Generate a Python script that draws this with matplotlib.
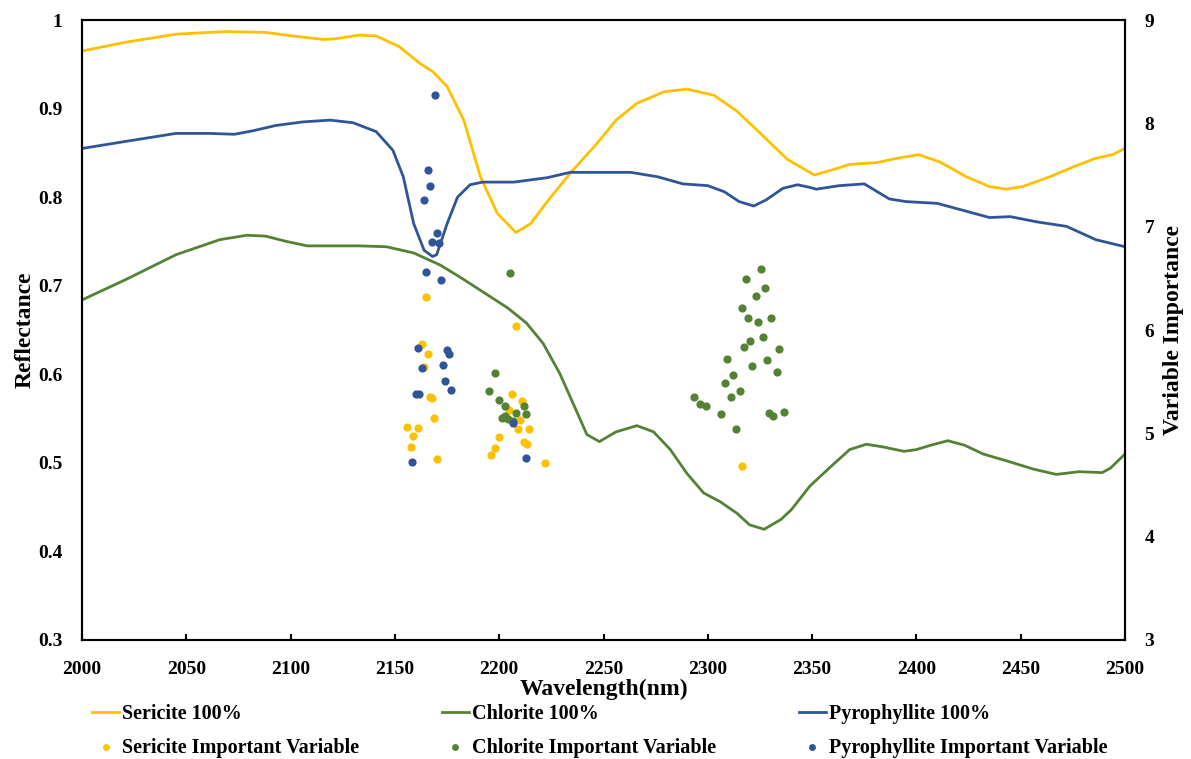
import numpy as np
import matplotlib.pyplot as plt

plt.rcParams['font.family'] = ['Liberation Serif', 'DejaVu Serif']
plt.rcParams['font.weight'] = 'bold'

# reflectance spectra
ser_wl = [2000, 2021, 2045, 2069, 2088, 2101, 2116, 2122, 2133, 2141, 2152, 2162, 2168, 2175,
          2183, 2191, 2199, 2208, 2215, 2223, 2234, 2247, 2256, 2266, 2279, 2290, 2303, 2314,
          2327, 2338, 2351, 2360, 2368, 2381, 2391, 2401, 2411, 2424, 2435, 2443, 2451, 2464,
          2475, 2486, 2494, 2500]
ser_r = [0.965, 0.975, 0.984, 0.987, 0.986, 0.982, 0.978, 0.979, 0.983, 0.982, 0.970, 0.951, 0.942, 0.925,
         0.887, 0.823, 0.782, 0.760, 0.770, 0.795, 0.827, 0.861, 0.887, 0.906, 0.919, 0.922, 0.915, 0.897,
         0.868, 0.843, 0.825, 0.831, 0.837, 0.839, 0.844, 0.848, 0.840, 0.823, 0.812, 0.809, 0.812, 0.823,
         0.834, 0.844, 0.848, 0.855]

chl_wl = [2000, 2021, 2045, 2066, 2079, 2088, 2098, 2108, 2120, 2133, 2146, 2159, 2172, 2183,
          2204, 2213, 2221, 2229, 2236, 2242, 2248, 2256, 2266, 2274, 2282, 2290, 2298, 2306,
          2314, 2320, 2327, 2335, 2340, 2349, 2360, 2368, 2376, 2384, 2394, 2400, 2407, 2415,
          2423, 2432, 2445, 2456, 2467, 2478, 2489, 2493, 2500]
chl_r = [0.684, 0.707, 0.735, 0.752, 0.757, 0.756, 0.750, 0.745, 0.745, 0.745, 0.744, 0.737, 0.723, 0.707,
         0.675, 0.658, 0.635, 0.601, 0.564, 0.532, 0.524, 0.535, 0.542, 0.535, 0.515, 0.488, 0.466, 0.456,
         0.443, 0.430, 0.425, 0.436, 0.447, 0.474, 0.498, 0.515, 0.521, 0.518, 0.513, 0.515, 0.520, 0.525,
         0.520, 0.510, 0.501, 0.493, 0.487, 0.490, 0.489, 0.494, 0.510]

pyr_wl = [2000, 2021, 2045, 2061, 2073, 2082, 2093, 2106, 2119, 2130, 2141, 2149, 2154, 2159,
          2164, 2168, 2170, 2175, 2180, 2186, 2192, 2207, 2223, 2234, 2263, 2276, 2288, 2300,
          2308, 2315, 2322, 2328, 2336, 2343, 2349, 2352, 2363, 2375, 2387, 2395, 2410, 2421,
          2435, 2445, 2458, 2472, 2486, 2500]
pyr_r = [0.855, 0.863, 0.872, 0.872, 0.871, 0.875, 0.881, 0.885, 0.887, 0.884, 0.874, 0.853, 0.823, 0.770,
         0.740, 0.733, 0.735, 0.770, 0.800, 0.814, 0.817, 0.817, 0.822, 0.828, 0.828, 0.823, 0.815, 0.813,
         0.806, 0.795, 0.790, 0.797, 0.810, 0.814, 0.811, 0.809, 0.813, 0.815, 0.798, 0.795, 0.793, 0.786,
         0.777, 0.778, 0.772, 0.767, 0.752, 0.744]

# important variables (wavelength, importance)
ser_pts_wl = [2162.8, 2166.0, 2164.0, 2166.8, 2167.9, 2168.9, 2155.9, 2160.9, 2158.8, 2157.9, 2170.0,
              2206.0, 2211.1, 2204.7, 2210.0, 2200.0, 2209.2, 2214.1, 2198.1, 2195.9, 2211.9, 2213.2,
              2222.0, 2164.9, 2207.9, 2316.2]
ser_pts_vi = [5.86, 5.77, 5.64, 5.35, 5.34, 5.15, 5.06, 5.05, 4.97, 4.87, 4.75,
              5.38, 5.31, 5.23, 5.13, 4.96, 5.04, 5.04, 4.86, 4.79, 4.92, 4.90,
              4.71, 6.32, 6.04, 4.68]

chl_pts_wl = [2198.0, 2195.0, 2200.0, 2202.9, 2207.9, 2211.9, 2213.0, 2201.2, 2202.8, 2204.4, 2206.8, 2205.2,
              2325.4, 2318.3, 2327.4, 2323.2, 2316.2, 2319.3, 2324.2, 2330.3, 2326.3, 2320.4, 2317.4,
              2334.3, 2309.3, 2328.4, 2321.3, 2333.3, 2312.2, 2308.4, 2315.3, 2311.3, 2293.2, 2296.4,
              2299.3, 2306.2, 2329.2, 2331.3, 2336.4, 2313.4]
chl_pts_vi = [5.58, 5.41, 5.32, 5.26, 5.20, 5.26, 5.19, 5.15, 5.17, 5.14, 5.12, 6.55,
              6.59, 6.49, 6.41, 6.33, 6.21, 6.12, 6.08, 6.12, 5.93, 5.89, 5.84,
              5.82, 5.72, 5.71, 5.65, 5.59, 5.56, 5.49, 5.41, 5.35, 5.35, 5.28,
              5.26, 5.19, 5.20, 5.17, 5.21, 5.04]

pyr_pts_wl = [2169.2, 2166.0, 2167.0, 2164.0, 2170.0, 2167.9, 2171.3, 2164.9, 2172.0, 2160.9, 2174.8,
              2176.1, 2162.8, 2172.9, 2174.0, 2176.9, 2160.0, 2161.7, 2206.8, 2158.1, 2213.0]
pyr_pts_vi = [8.27, 7.55, 7.39, 7.26, 6.94, 6.85, 6.84, 6.56, 6.48, 5.83, 5.81,
              5.77, 5.63, 5.66, 5.51, 5.42, 5.38, 5.38, 5.10, 4.72, 4.76]

c_ser = '#FFC000'
c_chl = '#548235'
c_pyr = '#2F5597'

fig = plt.figure(figsize=(11.91, 7.59), dpi=100)
ax = fig.add_axes([0.0689, 0.1568, 0.8757, 0.8168])
ax2 = ax.twinx()

l1, = ax.plot(ser_wl, ser_r, color=c_ser, lw=2.0, label='Sericite 100%')
l2, = ax.plot(chl_wl, chl_r, color=c_chl, lw=2.0, label='Chlorite 100%')
l3, = ax.plot(pyr_wl, pyr_r, color=c_pyr, lw=2.0, label='Pyrophyllite 100%')

s1 = ax2.scatter(ser_pts_wl, ser_pts_vi, color=c_ser, s=24, label='Sericite Important Variable')
s2 = ax2.scatter(chl_pts_wl, chl_pts_vi, color=c_chl, s=24, label='Chlorite Important Variable')
s3 = ax2.scatter(pyr_pts_wl, pyr_pts_vi, color=c_pyr, s=24, label='Pyrophyllite Important Variable')

ax.set_xlim(2000, 2500)
ax.set_ylim(0.3, 1.0)
ax2.set_ylim(3, 9)
ax.set_xticks(np.arange(2000, 2501, 50))
ax.set_yticks(np.arange(0.3, 1.01, 0.1))
ax.set_yticklabels(['0.3', '0.4', '0.5', '0.6', '0.7', '0.8', '0.9', '1'])
ax2.set_yticks(range(3, 10))

ax.tick_params(axis='x', direction='in', length=4, width=1.5, labelsize=14, pad=15)
ax.tick_params(axis='y', length=0, labelsize=14, pad=14)
ax2.tick_params(axis='y', length=0, labelsize=14, pad=14)
for a in (ax, ax2):
    for sp in a.spines.values():
        sp.set_linewidth(1.5)

ax.set_xlabel('Wavelength(nm)', fontsize=17, fontweight='bold', labelpad=1)
ax.set_ylabel('Reflectance', fontsize=17, fontweight='bold', labelpad=2)
ax2.set_ylabel('Variable Importance', fontsize=17, fontweight='bold', labelpad=6)

fig.legend([l1, s1, l2, s2, l3, s3],
           [h.get_label() for h in [l1, s1, l2, s2, l3, s3]],
           ncol=3, loc='lower left', bbox_to_anchor=(0.062, -0.022), frameon=False,
           fontsize=14.5, handlelength=1.35, handletextpad=0.15, columnspacing=4.1,
           labelspacing=0.65, scatterpoints=1, markerscale=0.8)

fig.savefig('out.png', dpi=100)
